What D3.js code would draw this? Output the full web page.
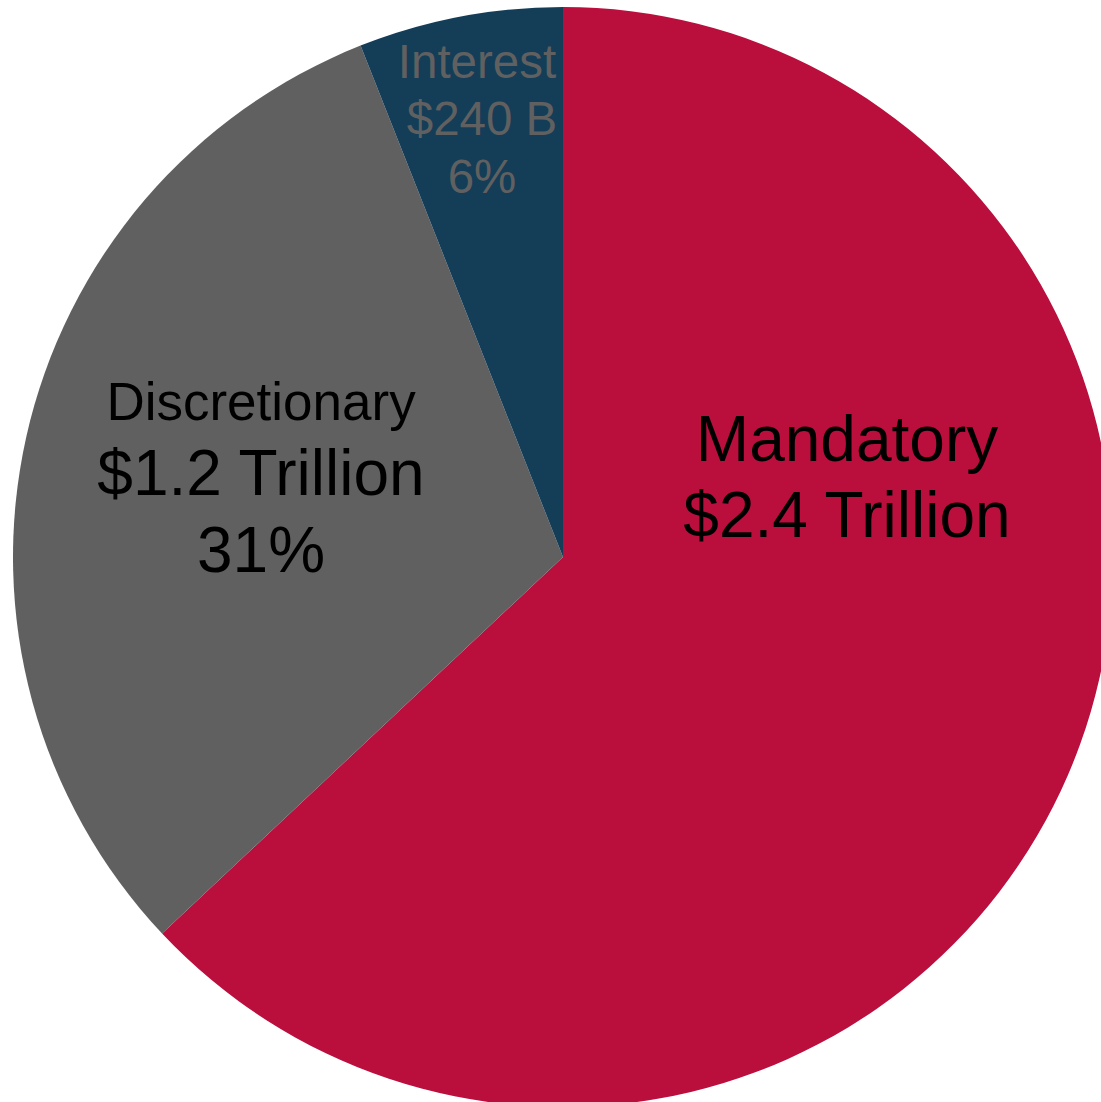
<!DOCTYPE html>
<html>
<head>
<meta charset="utf-8">
<script src="https://cdn.jsdelivr.net/npm/d3@7"></script>
<style>
  html, body { margin: 0; padding: 0; background: #fff; }
  svg { display: block; }
  text { font-family: "Liberation Sans", Arial, sans-serif; }
</style>
</head>
<body>
<svg id="chart" width="1101" height="1102"></svg>
<script>
const categories = ["Mandatory", "Discretionary", "Interest"];
const shares = [63, 31, 6];
const amounts = ["$2.4 Trillion", "$1.2 Trillion", "$240 B"];
const percentLabels = [null, "31%", "6%"];
const colors = ["#BA0F3C", "#606060", "#143D58"];

const data = categories.map((c, i) => ({ name: c, value: shares[i], amount: amounts[i], pct: percentLabels[i], color: colors[i] }));

const svg = d3.select("#chart");
const cx = 563, cy = 557, r = 550;
const g = svg.append("g").attr("transform", `translate(${cx},${cy})`);

const pie = d3.pie().sort(null).value(d => d.value);
const arc = d3.arc().innerRadius(0).outerRadius(r);
const arcs = pie(data);

g.selectAll("path").data(arcs).enter().append("path")
  .attr("d", arc).attr("fill", d => d.data.color);

// label layouts: offsets relative to the centre
const labelSpecs = [
  { lines: [
      { t: data[0].name, x: 284, y: -96, s: 64 },
      { t: data[0].amount, x: 284, y: -20, s: 64 } ], fill: "#000" },
  { lines: [
      { t: data[1].name, x: -302, y: -137, s: 53 },
      { t: data[1].amount, x: -302, y: -62, s: 64 },
      { t: data[1].pct, x: -302, y: 15, s: 64 } ], fill: "#000" },
  { lines: [
      { t: data[2].name, x: -86, y: -479, s: 47.5 },
      { t: data[2].amount, x: -81, y: -422, s: 47.5 },
      { t: data[2].pct, x: -81, y: -364, s: 47.5 } ], fill: "#606060" }
];

labelSpecs.forEach(spec => {
  spec.lines.forEach(l => {
    g.append("text")
      .attr("x", l.x).attr("y", l.y)
      .attr("text-anchor", "middle")
      .attr("font-size", l.s)
      .attr("fill", spec.fill)
      .text(l.t);
  });
});
</script>
</body>
</html>
